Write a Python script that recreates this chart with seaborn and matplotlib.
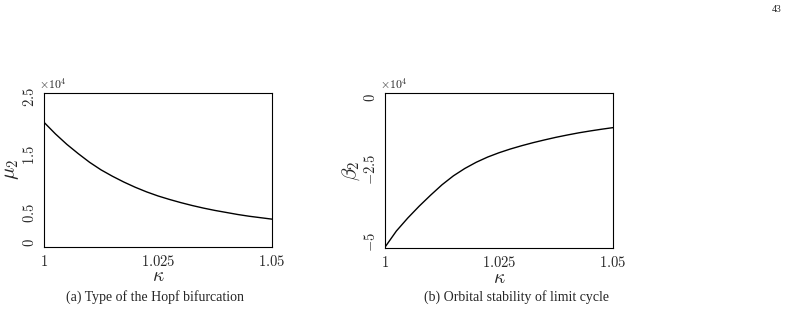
import numpy as np
import pandas as pd
import matplotlib
matplotlib.use("Agg")
import matplotlib.pyplot as plt
import seaborn as sns

# data (values in units of 1e4)
kappa = [1.0000, 1.0025, 1.0050, 1.0075, 1.0100, 1.0125, 1.0150, 1.0175, 1.0200, 1.0225,
         1.0250, 1.0275, 1.0300, 1.0325, 1.0350, 1.0375, 1.0400, 1.0425, 1.0450, 1.0475,
         1.0500]
mu2 = [2.07, 1.87, 1.69, 1.53, 1.38, 1.25, 1.14, 1.04, 0.95, 0.87,
       0.80, 0.74, 0.685, 0.635, 0.59, 0.55, 0.515, 0.48, 0.45, 0.425,
       0.40]
beta2 = [-5.19, -4.63, -4.18, -3.77, -3.39, -3.03, -2.72, -2.465, -2.25, -2.07,
         -1.92, -1.79, -1.675, -1.57, -1.475, -1.385, -1.305, -1.23, -1.165, -1.105,
         -1.05]
xticks = [1.0, 1.025, 1.05]
xticklabels = ["1", "1.025", "1.05"]
mu_ticks = [0, 0.5, 1.5, 2.5]
mu_ticklabels = ["0", "0.5", "1.5", "2.5"]
beta_ticks = [-5, -2.5, 0]
beta_ticklabels = ["-5", "-2.5", "0"]
captions = ["(a) Type of the Hopf bifurcation", "(b) Orbital stability of limit cycle"]

sns.set_style("white")
plt.rcParams["mathtext.fontset"] = "cm"
plt.rcParams["font.family"] = ["DejaVu Serif"]

df = pd.DataFrame({"kappa": kappa, "mu2": mu2, "beta2": beta2})

fig = plt.figure(figsize=(8, 3.16), dpi=100)
W, H = 800, 316

def add_ax(x0, x1, y0, y1):
    return fig.add_axes([x0 / W, 1 - y1 / H, (x1 - x0) / W, (y1 - y0) / H])

ax1 = add_ax(44, 272, 92.7, 246.7)
ax2 = add_ax(385, 613, 92.7, 248.3)

sns.lineplot(data=df, x="kappa", y="mu2", ax=ax1, color="black", lw=1.0)
sns.lineplot(data=df, x="kappa", y="beta2", ax=ax2, color="black", lw=1.0)

def style(ax, yticks, ylabels, ylim, ylabel):
    ax.set_xlim(1.0, 1.05)
    ax.set_ylim(*ylim)
    ax.set_xticks(xticks)
    ax.set_xticklabels(["$%s$" % t for t in xticklabels], fontsize=10.5)
    ax.set_yticks(yticks)
    ax.set_yticklabels(["$%s$" % l for l in ylabels], fontsize=10.5,
                       rotation=90, va="center")
    ax.set_xlabel(r"$\kappa$", fontsize=14, labelpad=-1)
    ax.set_ylabel(ylabel, fontsize=15, labelpad=1)
    ax.tick_params(direction="out", length=3, width=0.8, pad=2, color="black")
    for s in ax.spines.values():
        s.set_visible(True)
        s.set_color("black")
        s.set_linewidth(0.8)
    ax.text(-0.02, 1.01, r"$\times 10^4$", transform=ax.transAxes, fontsize=8.5,
            ha="left", va="bottom")

style(ax1, mu_ticks, mu_ticklabels, (-0.075, 2.58), r"$\mu_2$")
style(ax2, beta_ticks, beta_ticklabels, (-5.23, 0.16), r"$\beta_2$")

fig.text(155 / W, 1 - 297 / H, captions[0], fontsize=10, family="Liberation Serif",
         ha="center", va="center")
fig.text(517 / W, 1 - 297 / H, captions[1], fontsize=10, family="Liberation Serif",
         ha="center", va="center")
fig.text(782 / W, 1 - 10 / H, "43", fontsize=7, family="Liberation Serif",
         ha="right", va="center")

fig.savefig("out.png", dpi=100)
